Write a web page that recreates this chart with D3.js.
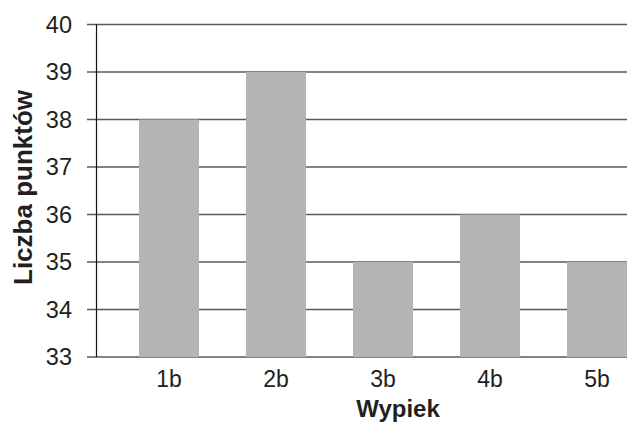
<!DOCTYPE html>
<html>
<head>
<meta charset="utf-8">
<script src="https://cdn.jsdelivr.net/npm/d3@7"></script>
<style>
  html, body { margin: 0; padding: 0; background: #fff; }
  svg { display: block; }
  text { font-family: "Liberation Sans", Arial, sans-serif; fill: #231f20; }
</style>
</head>
<body>
<script>
// Scores for each bake
const categories = ["1b", "2b", "3b", "4b", "5b"];
const values = [38, 39, 35, 36, 35];
const yTicks = [33, 34, 35, 36, 37, 38, 39, 40];
const xTitle = "Wypiek";
const yTitle = "Liczba punktów";

const width = 627, height = 423;
const svg = d3.select("body").append("svg")
  .attr("width", width).attr("height", height);

const axisX = 96.5;
const y = d3.scaleLinear().domain([33, 40]).range([357, 24.5]);
const x = d3.scaleBand().domain(categories)
  .range([115.5, 650.5])
  .paddingInner(0.439).paddingOuter(0.2195);

// Horizontal gridlines (extend left past the axis as tick marks)
svg.append("g").selectAll("line").data(yTicks).join("line")
  .attr("x1", 87).attr("x2", width)
  .attr("y1", d => y(d)).attr("y2", d => y(d))
  .attr("stroke", "#5a5a5a").attr("stroke-width", 1.6);

// Bars
svg.append("g").selectAll("rect").data(values).join("rect")
  .attr("x", (d, i) => x(categories[i]))
  .attr("width", x.bandwidth())
  .attr("y", d => y(d))
  .attr("height", d => y(33) - y(d))
  .attr("fill", "#b3b4b6");

// Vertical axis line
svg.append("line")
  .attr("x1", axisX).attr("x2", axisX)
  .attr("y1", y(40)).attr("y2", y(33))
  .attr("stroke", "#111").attr("stroke-width", 1.2);

// Y tick labels
svg.append("g").selectAll("text").data(yTicks).join("text")
  .attr("x", 72).attr("y", d => y(d))
  .attr("dy", "0.36em")
  .attr("text-anchor", "end")
  .attr("font-size", 23.5)
  .text(d => d);

// X tick labels
svg.append("g").selectAll("text").data(categories).join("text")
  .attr("x", d => x(d) + x.bandwidth() / 2)
  .attr("y", 387)
  .attr("text-anchor", "middle")
  .attr("font-size", 23)
  .text(d => d);

// Axis titles
svg.append("text")
  .attr("x", 398).attr("y", 417)
  .attr("text-anchor", "middle")
  .attr("font-size", 24).attr("font-weight", "bold")
  .text(xTitle);

svg.append("text")
  .attr("transform", `translate(32, 187.5) rotate(-90)`)
  .attr("text-anchor", "middle")
  .attr("font-size", 26).attr("font-weight", "bold")
  .text(yTitle);
</script>
</body>
</html>
